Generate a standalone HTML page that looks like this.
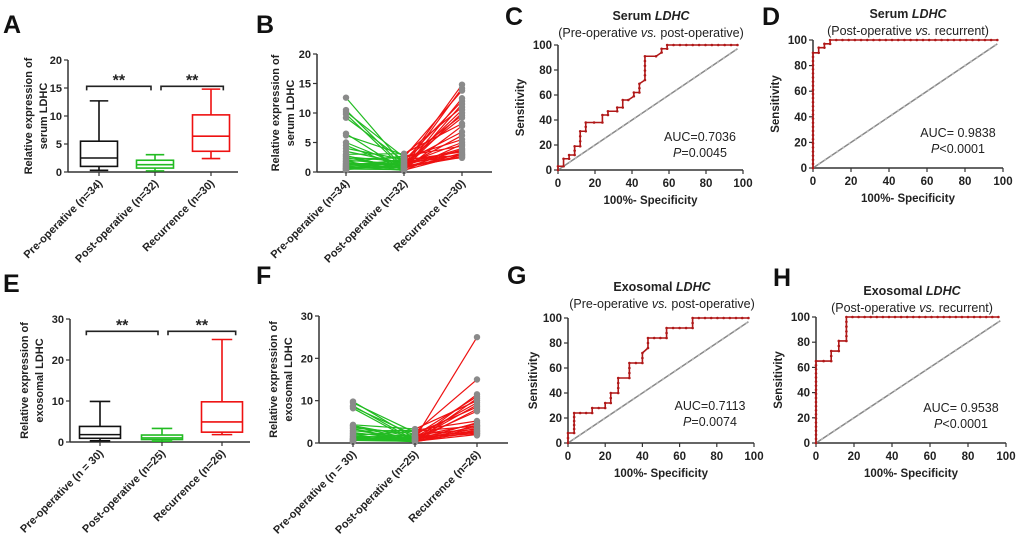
<!DOCTYPE html>
<html><head><meta charset="utf-8"><style>
html,body{margin:0;padding:0;background:#fff;}
svg{display:block;font-family:"Liberation Sans",sans-serif;}
</style></head><body>
<svg id="fig" width="1020" height="539" viewBox="0 0 1020 539"></svg>
<script>
// ---- Data ----
const boxCategoriesSerum=["Pre-operative (n=34)","Post-operative  (n=32)","Recurrence (n=30)"];
const boxCategoriesExo=["Pre-operative (n = 30)","Post-operative  (n=25)","Recurrence (n=26)"];
// [min,q1,median,q3,max]
const serumBoxStats=[[0.3,1.0,2.5,5.5,12.7],[0.2,0.7,1.3,2.1,3.1],[2.4,3.7,6.4,10.2,14.8]];
const exoBoxStats=[[0.3,0.9,1.8,3.8,9.9],[0.2,0.6,1.0,1.7,3.3],[1.8,2.4,4.9,9.8,25]];
const serumTicks=[0,5,10,15,20];
const exoTicks=[0,10,20,30];
const serumPre=[12.6,10.5,10.2,9.8,9.2,6.5,6.2,5.0,4.5,4.0,3.5,3.0,2.8,2.6,2.4,2.2,2.0,1.8,1.7,1.5,1.4,1.3,1.2,1.1,1.0,0.9,0.8,0.7,0.6,0.5,0.5,0.4,0.3,0.3];
const serumPost=[1.2,0.8,2.5,0.5,1.9,0.3,2.9,1.0,0.6,2.1,1.5,3.1,0.4,1.7,0.9,2.4,1.3,0.2,2.7,1.1,0.7,1.6,2.0,0.6,1.4,0.3,2.2,1.0,0.8,1.8,0.4,1.3];
const serumRec=[14.8,14.2,13.8,12.5,12.0,11.5,11.0,10.5,10.0,9.6,9.2,8.2,7.8,6.8,6.2,5.5,5.0,4.7,4.4,4.0,3.8,3.6,3.4,3.2,3.0,2.9,2.8,2.6,2.5,2.4];
const exoPre=[9.8,9.5,8.8,8.5,8.2,4.3,4.1,3.9,3.6,3.4,3.0,2.8,2.5,2.2,2.0,1.8,1.6,1.4,1.2,1.1,1.0,0.9,0.8,0.7,0.6,0.5,0.4,0.4,0.3,0.3];
const exoPost=[1.1,2.5,0.6,1.8,0.3,3.3,1.4,0.8,2.2,0.4,1.0,3.0,0.7,1.6,0.2,2.8,1.2,0.5,2.0,0.9,0.3,1.5,0.7,1.3,0.4];
const exoRec=[25,15,11.5,11.0,10.5,10.0,9.5,9.0,8.5,8.0,7.5,5.2,4.8,4.5,4.2,4.0,3.8,3.5,3.2,3.0,2.8,2.6,2.4,2.2,2.0,1.8];
const rocTicks=[0,20,40,60,80,100];
const rocC_x=[0,0,3,3,6,6,9,9,12,12,15,15,24,24,27,27,32,32,35,35,38,41,41,44,44,47,47,53,56,56,59,59,97];
const rocC_y=[0,3,3,9,9,12,12,19,19,31,31,38,38,44,44,47,47,50,50,56,56,59,62,62,69,72,91,91,94,97,97,100,100];
const rocD_x=[0,0,3,3,6,6,9,9,97];
const rocD_y=[0,90,90,94,94,97,97,100,100];
const rocG_x=[0,0,3.3,3.3,13,13,20,20,23,23,27,27,33,33,40,40,43,43,53,53,67,67,97];
const rocG_y=[0,8,8,24,24,28,28,32,32,40,40,52,52,64,64,72,76,84,84,92,92,100,100];
const rocH_x=[0,0,8,8,12,12,16,16,96];
const rocH_y=[0,65,65,73,73,81,81,100,100];

const NS="http://www.w3.org/2000/svg";
const svg=document.getElementById('fig');
function el(tag,attrs,parent){const e=document.createElementNS(NS,tag);for(const k in attrs)e.setAttribute(k,attrs[k]);(parent||svg).appendChild(e);return e;}
function nm(e,name){


return e;}
function txt(x,y,s,attrs,parent,name){const t=el('text',Object.assign({x:x,y:y,fill:'#222'},attrs),parent);t.textContent=s;nm(t,name);return t;}

function panelLabel(x,y,s){txt(x,y,s,{'font-size':25,'font-weight':'bold',fill:'#111'},svg,'panel-label-'+s.toLowerCase());}

function yAxis(g,x0,y0,yTop,xEnd,ticks,max){
  const sy=v=>y0-(v/max)*(y0-yTop);
  const ax=el('line',{x1:x0,y1:y0,x2:x0,y2:yTop,stroke:'#333','stroke-width':1.5},g);nm(ax,'y-axis');
  const xa=el('line',{x1:x0,y1:y0,x2:xEnd,y2:y0,stroke:'#333','stroke-width':1.5},g);nm(xa,'x-axis');
  ticks.forEach(t=>{const l=el('line',{x1:x0-4,y1:sy(t),x2:x0,y2:sy(t),stroke:'#333','stroke-width':1.2},g);nm(l,'y-tick');
    txt(x0-6,sy(t)+4,String(t),{'font-size':11,'font-weight':'bold','text-anchor':'end'},g,'y-tick-label');});
  return sy;
}
function yTitle(g,x,cy,lines,size){lines.forEach((s,i)=>{txt(0,0,s,{'font-size':size||11,'font-weight':'bold','text-anchor':'middle',transform:`translate(${x+i*15},${cy}) rotate(-90)`},g,'y-axis-title');});}
function catLabels(g,cats,xs,y0){cats.forEach((c,i)=>{const l=el('line',{x1:xs[i],y1:y0,x2:xs[i],y2:y0+4,stroke:'#333','stroke-width':1.2},g);nm(l,'x-tick');
  txt(0,0,c,{'font-size':11,'font-weight':'bold','text-anchor':'end',transform:`translate(${xs[i]+4},${y0+12}) rotate(-45)`},g,'x-category-label');});}

function boxPanel(name,x0,y0,yTop,xEnd,ticks,max,cats,xs,bw,stats,brY,titleLines,titleX){
  const g=el('g',{});nm(g,name);
  const sy=yAxis(g,x0,y0,yTop,xEnd,ticks,max);
  const cols=['#111','#22bb22','#ee1111'];
  stats.forEach((s,i)=>{const cx=xs[i],c=cols[i];const bg=el('g',{},g);nm(bg,'box-'+(i+1));
    const w=el('line',{x1:cx,y1:sy(s[0]),x2:cx,y2:sy(s[4]),stroke:c,'stroke-width':1.6},bg);nm(w,'whisker');
    [s[0],s[4]].forEach(v=>{const cap=el('line',{x1:cx-bw/4,y1:sy(v),x2:cx+bw/4,y2:sy(v),stroke:c,'stroke-width':1.6},bg);nm(cap,'whisker-cap');});
    const r=el('rect',{x:cx-bw/2,y:sy(s[3]),width:bw,height:sy(s[1])-sy(s[3]),fill:'#fff',stroke:c,'stroke-width':1.6},bg);nm(r,'box');
    const m=el('line',{x1:cx-bw/2,y1:sy(s[2]),x2:cx+bw/2,y2:sy(s[2]),stroke:c,'stroke-width':1.6},bg);nm(m,'median');});
  [[0,1],[1,2]].forEach(([a,b])=>{const x1=xs[a]-bw/3,x2=xs[b]+(a==0?-4:bw/3),x1b=a==0?x1:xs[a]+6;const y=sy(brY);
    const p=el('path',{d:`M${x1b},${y+4}V${y}H${x2}V${y+4}`,fill:'none',stroke:'#222','stroke-width':1.6},g);nm(p,'significance-bracket');
    txt((x1b+x2)/2,y-1,'**',{'font-size':16,'font-weight':'bold','text-anchor':'middle'},g,'significance-stars');});
  yTitle(g,titleX,(y0+yTop)/2,titleLines);
  catLabels(g,cats,xs,y0);
}

function pairPanel(name,x0,y0,yTop,xEnd,ticks,max,cats,xs,pre,post,rec,titleLines,titleX){
  const g=el('g',{});nm(g,name);
  const sy=yAxis(g,x0,y0,yTop,xEnd,ticks,max);
  const n1=Math.min(pre.length,post.length),n2=Math.min(post.length,rec.length);
  for(let i=0;i<n1;i++){const l=el('line',{x1:xs[0],y1:sy(pre[i]),x2:xs[1],y2:sy(post[i]),stroke:'#22bb22','stroke-width':1.2},g);nm(l,'pre-post-line');}
  for(let i=0;i<n2;i++){const l=el('line',{x1:xs[1],y1:sy(post[i]),x2:xs[2],y2:sy(rec[i]),stroke:'#ee1111','stroke-width':1.2},g);nm(l,'post-recurrence-line');}
  [pre,post,rec].forEach((arr,j)=>arr.forEach(v=>{const c=el('circle',{cx:xs[j],cy:sy(v),r:3.2,fill:'#8a8a8a'},g);nm(c,'data-point');}));
  yTitle(g,titleX,(y0+yTop)/2,titleLines);
  catLabels(g,cats,xs,y0);
}

function rocPanel(name,x0,y0,yTop,xR,xs,ys,title,sub,auc,pval,tcx,ty,aucX,aucY,sensX){
  const g=el('g',{});nm(g,name);
  const sy=v=>y0-v/100*(y0-yTop),sx=v=>x0+v/100*(xR-x0);
  const ax=el('line',{x1:x0,y1:y0,x2:x0,y2:yTop,stroke:'#333','stroke-width':1.5},g);nm(ax,'y-axis');
  const xa=el('line',{x1:x0,y1:y0,x2:xR,y2:y0,stroke:'#333','stroke-width':1.5},g);nm(xa,'x-axis');
  rocTicks.forEach(t=>{const l=el('line',{x1:x0-4,y1:sy(t),x2:x0,y2:sy(t),stroke:'#333','stroke-width':1.2},g);nm(l,'y-tick');
    txt(x0-6,sy(t)+4,String(t),{'font-size':11.5,'font-weight':'bold','text-anchor':'end'},g,'y-tick-label');
    const m=el('line',{x1:sx(t),y1:y0,x2:sx(t),y2:y0+4,stroke:'#333','stroke-width':1.2},g);nm(m,'x-tick');
    txt(sx(t),y0+17,String(t),{'font-size':11.5,'font-weight':'bold','text-anchor':'middle'},g,'x-tick-label');});
  const d=el('line',{x1:sx(0),y1:sy(0),x2:sx(97),y2:sy(97),stroke:'#888','stroke-width':1.5},g);nm(d,'reference-line');
  for(let v=0;v<=97;v+=3.2){const c=el('circle',{cx:sx(v),cy:sy(v),r:1.1,fill:'#bbb'},g);nm(c,'reference-marker');}
  let dpts=xs.map((x,i)=>`${sx(x)},${sy(ys[i])}`).join(' ');
  const pl=el('polyline',{points:dpts,fill:'none',stroke:'#b01818','stroke-width':1.6},g);nm(pl,'roc-curve');
  for(let i=0;i<xs.length;i++){
    const c=el('circle',{cx:sx(xs[i]),cy:sy(ys[i]),r:1.3,fill:'#b01818'},g);nm(c,'roc-point');
    if(i<xs.length-1){const dx=xs[i+1]-xs[i],dy=ys[i+1]-ys[i],len=Math.hypot(dx,dy),n=Math.floor(len/3.2);
      for(let k=1;k<n;k++){const c2=el('circle',{cx:sx(xs[i]+dx*k/n),cy:sy(ys[i]+dy*k/n),r:1.3,fill:'#b01818'},g);nm(c2,'roc-point');}}}
  const t=el('text',{x:tcx,y:ty,'text-anchor':'middle','font-size':12.5,'font-weight':'bold',fill:'#222'},g);nm(t,'chart-title');
  t.innerHTML=title+' <tspan font-style="italic">LDHC</tspan>';
  const s=el('text',{x:tcx,y:ty+17,'text-anchor':'middle','font-size':12.5,fill:'#222'},g);nm(s,'chart-subtitle');
  s.innerHTML=sub[0]+' <tspan font-style="italic">vs.</tspan> '+sub[1];
  txt(aucX,aucY,auc,{'font-size':12.5,'text-anchor':'middle'},g,'auc-label');
  const p=el('text',{x:aucX,y:aucY+16,'text-anchor':'middle','font-size':12.5,fill:'#222'},g);nm(p,'p-value-label');
  p.innerHTML='<tspan font-style="italic">P</tspan>'+pval;
  txt((x0+xR)/2,y0+34,'100%- Specificity',{'font-size':11.5,'font-weight':'bold','text-anchor':'middle'},g,'x-axis-title');
  txt(0,0,'Sensitivity',{'font-size':11.5,'font-weight':'bold','text-anchor':'middle',transform:`translate(${sensX},${(y0+yTop)/2}) rotate(-90)`},g,'y-axis-title');
}

panelLabel(3,33,'A');panelLabel(256,33,'B');panelLabel(505,25,'C');panelLabel(762,25,'D');
panelLabel(3,292,'E');panelLabel(256,284,'F');panelLabel(507,284,'G');panelLabel(773,286,'H');

boxPanel('panel-a-boxplot',68,172,60,238,serumTicks,20,boxCategoriesSerum,[99,155,211],37,serumBoxStats,15.3,['Relative expression of','serum LDHC'],32);
pairPanel('panel-b-paired',317,172,54,492,serumTicks,20,boxCategoriesSerum,[346,404,462],serumPre,serumPost,serumRec,['Relative expression of','serum LDHC'],279);
boxPanel('panel-e-boxplot',70,442,319,250,exoTicks,30,boxCategoriesExo,[100,162,222],41,exoBoxStats,27,['Relative expression of','exosomal LDHC'],28);
pairPanel('panel-f-paired',319,443,316,508,exoTicks,30,boxCategoriesExo,[353,415,477],exoPre,exoPost,exoRec,['Relative expression of','exosomal LDHC'],277);

rocPanel('panel-c-roc',558,170,45,743,rocC_x,rocC_y,'Serum',['(Pre-operative','post-operative)'],'AUC=0.7036','=0.0045',651,20,700,141,524);
rocPanel('panel-d-roc',813,168,40,1003,rocD_x,rocD_y,'Serum',['(Post-operative','recurrent)'],'AUC= 0.9838','<0.0001',908,18,958,137,779);
rocPanel('panel-g-roc',568,443,318,754,rocG_x,rocG_y,'Exosomal',['(Pre-operative','post-operative)'],'AUC=0.7113','=0.0074',662,291,710,410,537);
rocPanel('panel-h-roc',816,443,317,1006,rocH_x,rocH_y,'Exosomal',['(Post-operative','recurrent)'],'AUC= 0.9538','<0.0001',912,295,961,412,782);
</script>
</body></html>
